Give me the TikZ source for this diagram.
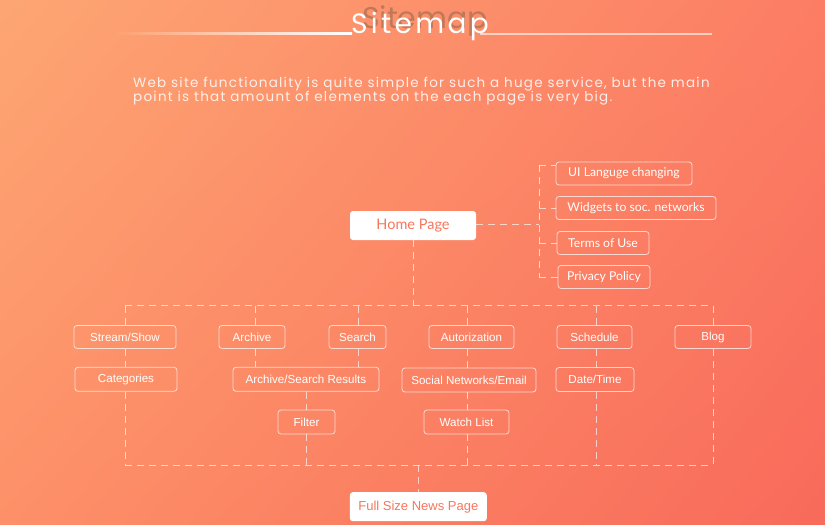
\documentclass[tikz,border=0pt]{standalone}
\usepackage{fontspec}
\usetikzlibrary{shadings}
\setmainfont{Lato}
\newfontfamily\titlefont{Poppins}[LetterSpace=12]
\newfontfamily\ghostfont{Poppins}
\newfontfamily\parafont{Poppins}[LetterSpace=9.2]
\newfontfamily\boxfont{Liberation Sans}
\definecolor{bgTL}{RGB}{253,166,115}
\definecolor{bgTR}{RGB}{252,125,100}
\definecolor{bgBL}{RGB}{253,144,104}
\definecolor{bgBR}{RGB}{248,106,90}
\definecolor{accent}{RGB}{247,118,92}
\definecolor{ghostc}{RGB}{185,118,88}
\definecolor{lineL}{RGB}{253,160,112}
\tikzset{
  conn/.style={draw=white, draw opacity=0.65, line width=0.9pt, dash pattern=on 7pt off 5pt},
  solidbox/.style={fill=white, rounded corners=3pt, text=accent, inner sep=0pt},
  topbox/.style={draw=white, draw opacity=0.7, line width=0.8pt, rounded corners=3pt, text=white, inner sep=0pt, minimum height=23pt, font=\fontsize{12.2}{12.2}\selectfont},
  lowbox/.style={topbox, font=\boxfont\fontsize{11.6}{11.6}\selectfont},
  lowboxb/.style={lowbox, minimum height=24pt},
}
\begin{document}
\begin{tikzpicture}[x=1pt, y=-1pt]
\useasboundingbox (0,0) rectangle (825,525);
\shade[upper left=bgTL, upper right=bgTR, lower left=bgBL, lower right=bgBR] (0,0) rectangle (825,525);

% title
\node[font=\ghostfont\fontsize{30}{30}\selectfont, text=ghostc, text opacity=0.9, anchor=base, inner sep=0pt] (ghost) at (425,28.5) {Sitemap};
\shade[left color=lineL, right color=white] (115,32) rectangle (352,34);
\fill[white, opacity=0.6] (480,32.5) rectangle (712,34.5);
\node[font=\titlefont\fontsize{28}{28}\selectfont, text=white, anchor=base, inner sep=0pt] (title) at (420,33) {Sitemap};

% description
\node[font=\parafont\fontsize{13.5}{13.5}\selectfont, text=white, text opacity=0.85, anchor=base west, inner sep=0pt] (desc1) at (133,87.5) {Web site functionality is quite simple for such a huge service, but the main};
\node[font=\parafont\fontsize{13.5}{13.5}\selectfont, text=white, text opacity=0.85, anchor=base west, inner sep=0pt] (desc2) at (133,101.5) {point is that amount of elements on the each page is very big.};

% home page and side boxes
\node[solidbox, minimum width=126pt, minimum height=29pt, font=\fontsize{14.5}{14.5}\selectfont] (home) at (413,225.5) {Home Page};
\node[topbox, minimum width=136pt] (ui) at (624,173.5) {UI Languge changing};
\node[topbox, minimum width=160pt] (wid) at (636,208) {Widgets to soc. networks};
\node[topbox, minimum width=92pt] (tou) at (603,243) {Terms of Use};
\node[topbox, minimum width=92pt] (pp) at (604,277) {Privacy Policy};

% row 1
\node[lowbox, minimum width=102pt] (ss) at (125,337) {Stream/Show};
\node[lowbox, minimum width=66pt] (arc) at (252,337) {Archive};
\node[lowbox, minimum width=57pt] (sea) at (357.5,337) {Search};
\node[lowbox, minimum width=85pt] (aut) at (471.5,337) {Autorization};
\node[lowbox, minimum width=75pt] (sch) at (594.5,337) {Schedule};
\node[lowbox, minimum width=76pt] (blog) at (713,337) {Blog};
% row 2
\node[lowboxb, minimum width=102pt] (cat) at (126,379.3) {Categories};
\node[lowboxb, minimum width=146pt] (asr) at (306,379.3) {Archive/Search Results};
\node[lowboxb, minimum width=134pt] (sne) at (469,380) {Social Networks/Email};
\node[lowboxb, minimum width=78pt] (dt) at (595,379.5) {Date/Time};
% row 3
\node[lowboxb, minimum width=57pt] (fil) at (306.5,422) {Filter};
\node[lowboxb, minimum width=85pt] (wl) at (466.5,422) {Watch List};
% bottom
\node[solidbox, minimum width=137pt, minimum height=29pt, font=\boxfont\fontsize{13}{13}\selectfont] (full) at (418.3,506.7) {Full Size News Page};

% right-hand connectors
\coordinate (hb) at (539,224.5);
\coordinate (rtop) at (539,165);
\draw[conn] (home.east |- hb) -- (hb);
\draw[conn] (rtop) -- (rtop |- pp.west);
\draw[conn] (rtop) -- (rtop -| ui.west);
\draw[conn] (rtop |- wid.west) -- (wid.west);
\draw[conn] (rtop |- tou.west) -- (tou.west);
\draw[conn] (rtop |- pp.west) -- (pp.west);

% columns
\coordinate (tbL) at (125,305.5);
\coordinate (tbR) at (713,305.5);
\coordinate (bbL) at (125,465);
\coordinate (bbR) at (713,465);
\coordinate (c1) at (125,0);
\coordinate (c2) at (255,0);
\coordinate (c3) at (358,0);
\coordinate (c4) at (306,0);
\coordinate (c5) at (467,0);
\coordinate (c6) at (596,0);
\coordinate (c7) at (713,0);
\coordinate (c8) at (418,0);

\draw[conn] (home.south) -- (home.south |- tbL);
\draw[conn] (tbL) -- (tbR);
\draw[conn] (bbL) -- (bbR);

\draw[conn] (c1 |- tbL) -- (c1 |- ss.north);
\draw[conn] (c1 |- ss.south) -- (c1 |- cat.north);
\draw[conn] (c1 |- cat.south) -- (c1 |- bbL);

\draw[conn] (c2 |- tbL) -- (c2 |- arc.north);
\draw[conn] (c2 |- arc.south) -- (c2 |- asr.north);

\draw[conn] (c3 |- tbL) -- (c3 |- sea.north);
\draw[conn] (c3 |- sea.south) -- (c3 |- asr.north);

\draw[conn] (c4 |- asr.south) -- (c4 |- fil.north);
\draw[conn] (c4 |- fil.south) -- (c4 |- bbL);

\draw[conn] (c5 |- tbL) -- (c5 |- aut.north);
\draw[conn] (c5 |- aut.south) -- (c5 |- sne.north);
\draw[conn] (c5 |- sne.south) -- (c5 |- wl.north);
\draw[conn] (c5 |- wl.south) -- (c5 |- bbL);

\draw[conn] (c6 |- tbL) -- (c6 |- sch.north);
\draw[conn] (c6 |- sch.south) -- (c6 |- dt.north);
\draw[conn] (c6 |- dt.south) -- (c6 |- bbL);

\draw[conn] (c7 |- tbL) -- (c7 |- blog.north);
\draw[conn] (c7 |- blog.south) -- (c7 |- bbL);

\draw[conn] (c8 |- bbL) -- (c8 |- full.north);
\end{tikzpicture}
\end{document}
